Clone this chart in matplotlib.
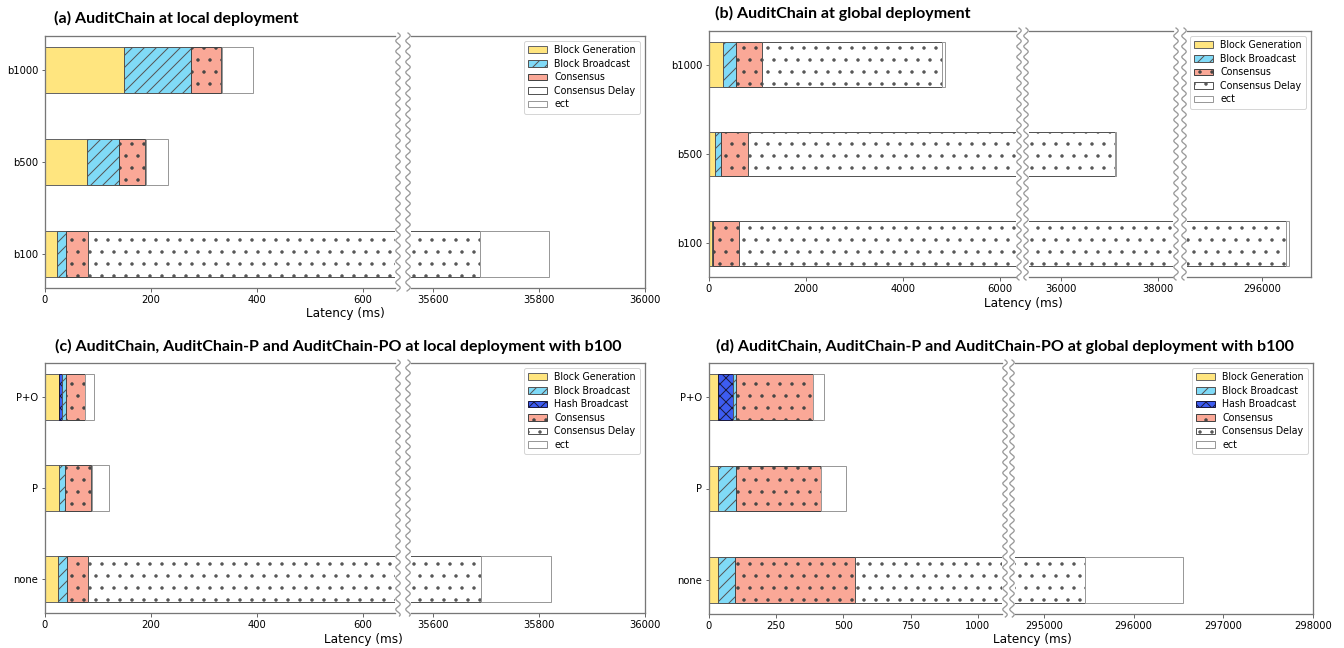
import numpy as np
import matplotlib
matplotlib.use("Agg")
import matplotlib.pyplot as plt
from matplotlib.lines import Line2D

# ---- data (ms) ----
# (a) local deployment, bottom to top
a_cats = ['b100', 'b500', 'b1000']
a_gen = [23, 79, 150]
a_bcast = [17, 60, 126]
a_cons = [41, 49, 57]
a_delay = [35608, 2, 2]
a_ect = [131, 43, 58]

# (b) global deployment
b_cats = ['b100', 'b500', 'b1000']
b_gen = [53, 133, 293]
b_bcast = [36, 115, 266]
b_cons = [532, 559, 541]
b_delay = [295874, 36306, 3716]
b_ect = [62, 17, 62]

# (c) variants, local deployment with b100
c_cats = ['none', 'P', 'P+O']
c_gen = [24, 25.5, 25.5]
c_hash = [0, 0, 6.5]
c_bcast = [17.5, 12, 8]
c_cons = [40.5, 49.5, 35]
c_delay = [35608, 1, 1]
c_ect = [132, 32, 16]

# (d) variants, global deployment with b100
d_cats = ['none', 'P', 'P+O']
d_gen = [32, 32, 32]
d_hash = [0, 0, 58]
d_bcast = [65, 69, 9]
d_cons = [446, 316, 287]
d_delay = [294913, 1, 0]
d_ect = [1100, 93, 43]

W, H = 1344, 648
plt.rcParams['font.family'] = 'DejaVu Sans'
plt.rcParams['hatch.linewidth'] = 1.0

styles = {
    'Block Generation': dict(color='#FFE57F', hatch=None, edge='#666666'),
    'Block Broadcast': dict(color='#80DAF7', hatch='//', edge='#555555'),
    'Hash Broadcast': dict(color='#3D5CF0', hatch='xx', edge='#1a1a40'),
    'Consensus': dict(color='#FAA897', hatch='.', edge='#444444'),
    'Consensus Delay': dict(color='white', hatch='.', edge='#555555'),
    'ect': dict(color='white', hatch=None, edge='#999999'),
}

fig = plt.figure(figsize=(W / 72, H / 72), dpi=72)


def px_axes(l, r, t, b):
    return fig.add_axes([l / W, 1 - b / H, (r - l) / W, (b - t) / H])


def wave(x, y0, y1):
    ys = np.linspace(y0, y1, 600)
    xs = x + 2.2 * np.sin(2 * np.pi * (ys - y0) / 10.5)
    fig.add_artist(Line2D(xs / W, 1 - ys / H, color='#999999', lw=1.3,
                          transform=fig.transFigure))


def panel(cats, parts, segs, top, bottom, xlims, xticks, legend_names):
    axes = []
    for i, (l, r) in enumerate(segs):
        ax = px_axes(l, r, top, bottom)
        y = np.arange(len(cats))
        left = np.zeros(len(cats))
        handles = {}
        for name, vals in parts:
            st = styles[name]
            bars = ax.barh(y, vals, left=left, height=0.5, color=st['color'],
                           hatch=st['hatch'], edgecolor=st['edge'], linewidth=1.0,
                           label=name)
            handles[name] = bars
            left = left + np.array(vals, dtype=float)
        ax.set_xlim(*xlims[i])
        ax.set_ylim(-0.375, len(cats) - 0.625)
        ax.set_xticks(xticks[i])
        ax.tick_params(labelsize=10, length=3.5, color='#444444')
        for s in ax.spines.values():
            s.set_color('#777777')
            s.set_linewidth(1.3)
        if i == 0:
            ax.set_yticks(y)
            ax.set_yticklabels(cats)
        else:
            ax.set_yticks([])
            ax.spines['left'].set_visible(False)
        if i < len(segs) - 1:
            ax.spines['right'].set_visible(False)
        axes.append(ax)
    axes[-1].legend([handles[n] for n in legend_names], legend_names,
                    loc='upper right', fontsize=9.5, labelspacing=0.38,
                    handlelength=2.0, borderpad=0.45, handletextpad=0.8)
    for (l1, r1), (l2, r2) in zip(segs[:-1], segs[1:]):
        wave(r1 + 3, top - 3, bottom + 3)
        wave(l2 - 3, top - 3, bottom + 3)
    return axes


names5 = ['Block Generation', 'Block Broadcast', 'Consensus', 'Consensus Delay', 'ect']
names6 = ['Block Generation', 'Block Broadcast', 'Hash Broadcast', 'Consensus',
          'Consensus Delay', 'ect']

# (a)
panel(a_cats,
      [('Block Generation', a_gen), ('Block Broadcast', a_bcast), ('Consensus', a_cons),
       ('Consensus Delay', a_delay), ('ect', a_ect)],
      [(45, 395), (411, 645)], 36, 288,
      [(0, 661), (35559, 36000)],
      [[0, 200, 400, 600], [35600, 35800, 36000]], names5)
fig.text(345 / W, 1 - 313 / H, 'Latency (ms)', ha='center', va='center', fontsize=12)
fig.text(54 / W, 1 - 18 / H, '(a) AuditChain at local deployment', ha='left',
         va='center', fontsize=16, fontweight='bold', family='Lato')

# (b)
panel(b_cats,
      [('Block Generation', b_gen), ('Block Broadcast', b_bcast), ('Consensus', b_cons),
       ('Consensus Delay', b_delay), ('ect', b_ect)],
      [(709, 1016), (1029, 1173), (1187, 1311)], 31, 277,
      [(0, 6340), (35340, 38309), (294450, 297010)],
      [[0, 2000, 4000, 6000], [36000, 38000], [296000]], names5)
fig.text(1023 / W, 1 - 303 / H, 'Latency (ms)', ha='center', va='center', fontsize=12)
fig.text(715 / W, 1 - 13 / H, '(b) AuditChain at global deployment', ha='left',
         va='center', fontsize=16, fontweight='bold', family='Lato')

# (c)
panel(c_cats,
      [('Block Generation', c_gen), ('Hash Broadcast', c_hash), ('Block Broadcast', c_bcast),
       ('Consensus', c_cons), ('Consensus Delay', c_delay), ('ect', c_ect)],
      [(45, 395), (411, 645)], 363, 613,
      [(0, 661), (35559, 36000)],
      [[0, 200, 400, 600], [35600, 35800, 36000]], names6)
fig.text(363 / W, 1 - 640 / H, 'Latency (ms)', ha='center', va='center', fontsize=12)
fig.text(338 / W, 1 - 346 / H,
         '(c) AuditChain, AuditChain-P and AuditChain-PO at local deployment with b100',
         ha='center', va='center', fontsize=16, fontweight='bold', family='Lato')

# (d)
panel(d_cats,
      [('Block Generation', d_gen), ('Hash Broadcast', d_hash), ('Block Broadcast', d_bcast),
       ('Consensus', d_cons), ('Consensus Delay', d_delay), ('ect', d_ect)],
      [(709, 1002), (1015, 1313)], 363, 614,
      [(0, 1090), (294678, 298000)],
      [[0, 250, 500, 750, 1000], [295000, 296000, 297000, 298000]], names6)
fig.text(1032 / W, 1 - 639 / H, 'Latency (ms)', ha='center', va='center', fontsize=12)
fig.text(1005 / W, 1 - 346 / H,
         '(d) AuditChain, AuditChain-P and AuditChain-PO at global deployment with b100',
         ha='center', va='center', fontsize=16, fontweight='bold', family='Lato')

fig.savefig('out.png', dpi=72)
